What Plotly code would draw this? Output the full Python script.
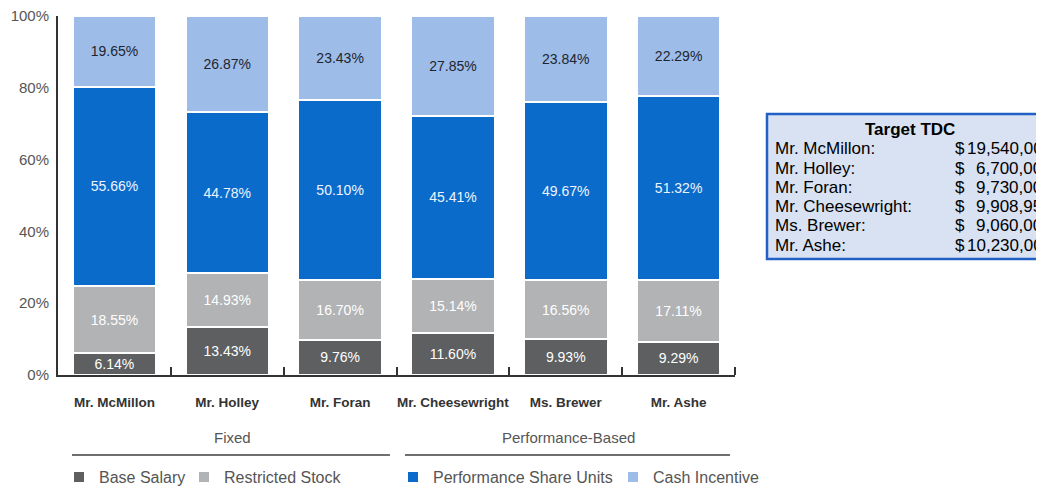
import plotly.graph_objects as go

executives = ["Mr. McMillon", "Mr. Holley", "Mr. Foran", "Mr. Cheesewright", "Ms. Brewer", "Mr. Ashe"]
base_salary = [6.14, 13.43, 9.76, 11.60, 9.93, 9.29]
restricted_stock = [18.55, 14.93, 16.70, 15.14, 16.56, 17.11]
performance_share_units = [55.66, 44.78, 50.10, 45.41, 49.67, 51.32]
cash_incentive = [19.65, 26.87, 23.43, 27.85, 23.84, 22.29]

tdc_names = ["Mr. McMillon:", "Mr. Holley:", "Mr. Foran:", "Mr. Cheesewright:", "Ms. Brewer:", "Mr. Ashe:"]
tdc_values = ["19,540,000", "6,700,000", "9,730,000", "9,908,951", "9,060,000", "10,230,000"]

y_ticks = [0, 20, 40, 60, 80, 100]
y_ticktext = ["0%", "20%", "40%", "60%", "80%", "100%"]

FONT = "Liberation Sans, Arial, sans-serif"
OFF = 8  # page body margin
W, H = 1044 - OFF, 491 - OFF
L, T = 58 - OFF, 16 - OFF
R = W - (735 - OFF)
B = H - (375 - OFF)
PW, PH = W - L - R, H - T - B


def px_x(p):
    return (p - OFF - L) / PW


def px_y(p):
    return (H - B - (p - OFF)) / PH


xs = list(range(len(executives)))

series = [
    ("Base Salary", base_salary, "#5e5f61", "#ffffff", "legend", None),
    ("Restricted Stock", restricted_stock, "#b2b3b5", "#ffffff", "legend", 130),
    ("Performance Share Units", performance_share_units, "#0a6bcb", "#eef4ff", "legend2", None),
    ("Cash Incentive", cash_incentive, "#9dbce8", "#1e2530", "legend2", 130),
]

fig = go.Figure()
for name, vals, color, tcol, lg, lw in series:
    fig.add_trace(go.Bar(
        x=xs, y=vals, name=name,
        marker=dict(color=color, line=dict(color="#ffffff", width=2)),
        width=0.74,
        text=vals, texttemplate="%{y:.2f}%",
        textposition="inside", insidetextanchor="middle",
        textfont=dict(family=FONT, size=14, color=tcol),
        legend=lg, legendwidth=lw, hoverinfo="skip",
    ))

annotations = []
annotations.append(dict(x=1.05, y=px_y(437), xref="x", yref="paper", text="Fixed",
                        xanchor="center", yanchor="middle",
                        showarrow=False, font=dict(family=FONT, size=15, color="#555555")))
annotations.append(dict(x=4.02, y=px_y(437), xref="x", yref="paper", text="Performance-Based",
                        xanchor="center", yanchor="middle",
                        showarrow=False, font=dict(family=FONT, size=15, color="#555555")))

annotations.append(dict(x=px_x(910), y=px_y(130), xref="paper", yref="paper", text="<b>Target TDC</b>",
                        showarrow=False, xanchor="center", yanchor="middle",
                        font=dict(family=FONT, size=17, color="#000000")))
row_y = [149, 168.2, 187.4, 206.6, 225.8, 245]
for i, (n, v) in enumerate(zip(tdc_names, tdc_values)):
    annotations.append(dict(x=px_x(773), y=px_y(row_y[i]), xref="paper", yref="paper", text=n,
                            showarrow=False, xanchor="left", yanchor="middle",
                            font=dict(family=FONT, size=17, color="#000000")))
    annotations.append(dict(x=px_x(953), y=px_y(row_y[i]), xref="paper", yref="paper", text="$",
                            showarrow=False, xanchor="left", yanchor="middle",
                            font=dict(family=FONT, size=17, color="#000000")))
    annotations.append(dict(x=px_x(1054), y=px_y(row_y[i]), xref="paper", yref="paper", text=v,
                            showarrow=False, xanchor="right", yanchor="middle",
                            font=dict(family=FONT, size=17, color="#000000")))

shapes = [
    dict(type="rect", xref="paper", yref="paper", x0=px_x(767), x1=px_x(1090),
         y0=px_y(259), y1=px_y(114), fillcolor="#d9e2f3", line=dict(color="#2160c4", width=2.5), layer="below"),
    dict(type="line", xref="x", yref="paper", x0=-0.376, x1=2.442, y0=px_y(455), y1=px_y(455),
         line=dict(color="#6f6f6f", width=2)),
    dict(type="line", xref="x", yref="paper", x0=2.575, x1=5.456, y0=px_y(455), y1=px_y(455),
         line=dict(color="#6f6f6f", width=2)),
]

fig.update_layout(
    width=W, height=H,
    margin=dict(l=L, r=R, t=T, b=B, pad=0, autoexpand=False),
    barmode="stack",
    plot_bgcolor="#ffffff", paper_bgcolor="#ffffff",
    font=dict(family=FONT, color="#555555"),
    xaxis=dict(
        range=[-0.5, 5.5], tickmode="array", tickvals=xs, ticktext=executives,
        showgrid=False, zeroline=False, showline=True, linecolor="#333333", linewidth=2,
        ticks="", ticklabelstandoff=14,
        tickfont=dict(family=FONT, size=13.5, color="#333333", weight="bold"),
        minor=dict(tickmode="array", tickvals=[0.5, 1.5, 2.5, 3.5, 4.5, 5.5], ticks="inside",
                   ticklen=8, tickcolor="#333333", tickwidth=1.5, showgrid=False),
        fixedrange=True,
    ),
    yaxis=dict(
        range=[0, 100], tickmode="array", tickvals=y_ticks, ticktext=y_ticktext,
        showgrid=False, zeroline=False, showline=True, linecolor="#333333", linewidth=2,
        ticks="", ticklabelstandoff=4, ticklabeloverflow="allow",
        tickfont=dict(family=FONT, size=15, color="#555555"),
        fixedrange=True,
    ),
    legend=dict(orientation="h", x=px_x(59), xanchor="left", y=px_y(477), yanchor="middle",
                entrywidth=80, font=dict(family=FONT, size=16, color="#555555"),
                bgcolor="rgba(0,0,0,0)", traceorder="normal", itemclick=False),
    legend2=dict(orientation="h", x=px_x(393), xanchor="left", y=px_y(477), yanchor="middle",
                 entrywidth=175, font=dict(family=FONT, size=16, color="#555555"),
                 bgcolor="rgba(0,0,0,0)", traceorder="normal", itemclick=False),
    annotations=annotations,
    shapes=shapes,
    showlegend=True,
)

fig.write_html("out.html", config={"displayModeBar": False})
